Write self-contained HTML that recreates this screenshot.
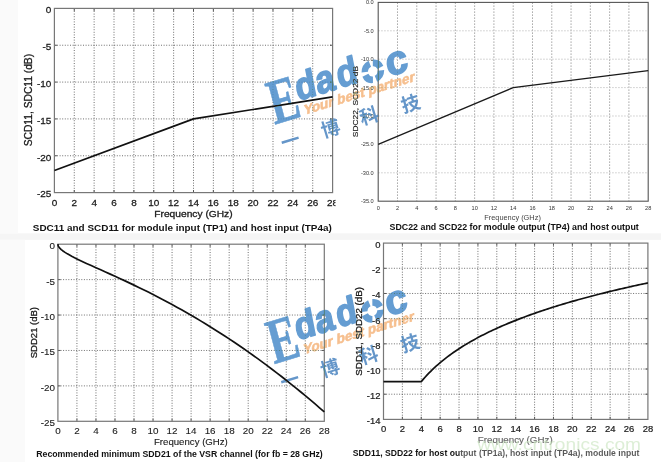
<!DOCTYPE html><html><head><meta charset="utf-8"><style>html,body{margin:0;padding:0;background:#fff;}svg{display:block;filter:blur(0.3px)}</style></head><body>
<svg width="661" height="462" viewBox="0 0 661 462" font-family="'Liberation Sans', Arial, sans-serif">
<rect width="661" height="462" fill="#fff"/>
<rect x="0" y="233.3" width="661" height="6.6" fill="#f5f5f5"/>
<rect x="0" y="0" width="18" height="233.3" fill="#fafafa"/>
<rect x="0" y="239.9" width="25" height="222.1" fill="#fafafa"/>
<defs><clipPath id="ctl"><rect x="0" y="0" width="335.5" height="233"/></clipPath></defs><g clip-path="url(#ctl)">
<path d="M74.27 8.4V192.6 M94.14 8.4V192.6 M114.01 8.4V192.6 M133.89 8.4V192.6 M153.76 8.4V192.6 M173.63 8.4V192.6 M193.5 8.4V192.6 M213.37 8.4V192.6 M233.24 8.4V192.6 M253.11 8.4V192.6 M272.99 8.4V192.6 M292.86 8.4V192.6 M312.73 8.4V192.6 M54.4 45.24H332.6 M54.4 82.08H332.6 M54.4 118.92H332.6 M54.4 155.76H332.6" stroke="#4a4a4a" stroke-width="0.8" stroke-dasharray="1 1.6" fill="none"/>
<path d="M74.27 192.6v-2.6M74.27 8.4v2.6M94.14 192.6v-2.6M94.14 8.4v2.6M114.01 192.6v-2.6M114.01 8.4v2.6M133.89 192.6v-2.6M133.89 8.4v2.6M153.76 192.6v-2.6M153.76 8.4v2.6M173.63 192.6v-2.6M173.63 8.4v2.6M193.5 192.6v-2.6M193.5 8.4v2.6M213.37 192.6v-2.6M213.37 8.4v2.6M233.24 192.6v-2.6M233.24 8.4v2.6M253.11 192.6v-2.6M253.11 8.4v2.6M272.99 192.6v-2.6M272.99 8.4v2.6M292.86 192.6v-2.6M292.86 8.4v2.6M312.73 192.6v-2.6M312.73 8.4v2.6M54.4 45.24h2.6M332.6 45.24h-2.6M54.4 82.08h2.6M332.6 82.08h-2.6M54.4 118.92h2.6M332.6 118.92h-2.6M54.4 155.76h2.6M332.6 155.76h-2.6" stroke="#555" stroke-width="1" fill="none"/>
<rect x="54.4" y="8.4" width="278.2" height="184.2" stroke="#777" stroke-width="1.2" fill="none"/>
<polyline points="54.4,170.5 193.5,118.92 332.6,96.82" stroke="#111" stroke-width="1.7" fill="none" stroke-linejoin="round"/>
<text transform="translate(51.4 13.2) scale(1.07 1)" font-size="9.3" fill="#1a1a1a" text-anchor="end" stroke="#1a1a1a" stroke-width="0.25">0</text>
<text transform="translate(51.4 50.04) scale(1.07 1)" font-size="9.3" fill="#1a1a1a" text-anchor="end" stroke="#1a1a1a" stroke-width="0.25">-5</text>
<text transform="translate(51.4 86.88) scale(1.07 1)" font-size="9.3" fill="#1a1a1a" text-anchor="end" stroke="#1a1a1a" stroke-width="0.25">-10</text>
<text transform="translate(51.4 123.72) scale(1.07 1)" font-size="9.3" fill="#1a1a1a" text-anchor="end" stroke="#1a1a1a" stroke-width="0.25">-15</text>
<text transform="translate(51.4 160.56) scale(1.07 1)" font-size="9.3" fill="#1a1a1a" text-anchor="end" stroke="#1a1a1a" stroke-width="0.25">-20</text>
<text transform="translate(51.4 197.4) scale(1.07 1)" font-size="9.3" fill="#1a1a1a" text-anchor="end" stroke="#1a1a1a" stroke-width="0.25">-25</text>
<text transform="translate(54.4 206.1) scale(1.07 1)" font-size="9.3" fill="#1a1a1a" text-anchor="middle" stroke="#1a1a1a" stroke-width="0.25">0</text>
<text transform="translate(74.27 206.1) scale(1.07 1)" font-size="9.3" fill="#1a1a1a" text-anchor="middle" stroke="#1a1a1a" stroke-width="0.25">2</text>
<text transform="translate(94.14 206.1) scale(1.07 1)" font-size="9.3" fill="#1a1a1a" text-anchor="middle" stroke="#1a1a1a" stroke-width="0.25">4</text>
<text transform="translate(114.01 206.1) scale(1.07 1)" font-size="9.3" fill="#1a1a1a" text-anchor="middle" stroke="#1a1a1a" stroke-width="0.25">6</text>
<text transform="translate(133.89 206.1) scale(1.07 1)" font-size="9.3" fill="#1a1a1a" text-anchor="middle" stroke="#1a1a1a" stroke-width="0.25">8</text>
<text transform="translate(153.76 206.1) scale(1.07 1)" font-size="9.3" fill="#1a1a1a" text-anchor="middle" stroke="#1a1a1a" stroke-width="0.25">10</text>
<text transform="translate(173.63 206.1) scale(1.07 1)" font-size="9.3" fill="#1a1a1a" text-anchor="middle" stroke="#1a1a1a" stroke-width="0.25">12</text>
<text transform="translate(193.5 206.1) scale(1.07 1)" font-size="9.3" fill="#1a1a1a" text-anchor="middle" stroke="#1a1a1a" stroke-width="0.25">14</text>
<text transform="translate(213.37 206.1) scale(1.07 1)" font-size="9.3" fill="#1a1a1a" text-anchor="middle" stroke="#1a1a1a" stroke-width="0.25">16</text>
<text transform="translate(233.24 206.1) scale(1.07 1)" font-size="9.3" fill="#1a1a1a" text-anchor="middle" stroke="#1a1a1a" stroke-width="0.25">18</text>
<text transform="translate(253.11 206.1) scale(1.07 1)" font-size="9.3" fill="#1a1a1a" text-anchor="middle" stroke="#1a1a1a" stroke-width="0.25">20</text>
<text transform="translate(272.99 206.1) scale(1.07 1)" font-size="9.3" fill="#1a1a1a" text-anchor="middle" stroke="#1a1a1a" stroke-width="0.25">22</text>
<text transform="translate(292.86 206.1) scale(1.07 1)" font-size="9.3" fill="#1a1a1a" text-anchor="middle" stroke="#1a1a1a" stroke-width="0.25">24</text>
<text transform="translate(312.73 206.1) scale(1.07 1)" font-size="9.3" fill="#1a1a1a" text-anchor="middle" stroke="#1a1a1a" stroke-width="0.25">26</text>
<text transform="translate(332.6 206.1) scale(1.07 1)" font-size="9.3" fill="#1a1a1a" text-anchor="middle" stroke="#1a1a1a" stroke-width="0.25">28</text>
<text transform="translate(154.28 216.6) scale(1.0882 1)" font-size="9.4" fill="#1a1a1a" stroke="#1a1a1a" stroke-width="0.3">Frequency (GHz)</text>
<text transform="translate(32 146.26) rotate(-90) scale(1.0252 1)" font-size="10" fill="#1a1a1a" stroke="#1a1a1a" stroke-width="0.3">SCD11, SDC11 (dB)</text>
</g>
<text transform="translate(32.83 231) scale(1.0136 1)" font-size="9.8" font-weight="bold" fill="#111">SDC11 and SCD11 for module input (TP1) and host input (TP4a)</text>
<path d="M397.49 2.4V201.2 M416.77 2.4V201.2 M436.06 2.4V201.2 M455.34 2.4V201.2 M474.63 2.4V201.2 M493.91 2.4V201.2 M513.2 2.4V201.2 M532.49 2.4V201.2 M551.77 2.4V201.2 M571.06 2.4V201.2 M590.34 2.4V201.2 M609.63 2.4V201.2 M628.91 2.4V201.2" stroke="#9a9a9a" stroke-width="0.9" stroke-dasharray="1.5 1.5" fill="none"/>
<path d="M378.2 30.8H648.2 M378.2 59.2H648.2 M378.2 87.6H648.2 M378.2 116H648.2 M378.2 144.4H648.2 M378.2 172.8H648.2" stroke="#c4c4c4" stroke-width="0.9" stroke-dasharray="1.5 1.5" fill="none"/>
<rect x="378.2" y="2.4" width="270" height="198.8" stroke="#555" stroke-width="1.1" fill="none"/>
<polyline points="378.2,144.4 513.2,87.6 648.2,70.56" stroke="#1a1a1a" stroke-width="1.3" fill="none"/>
<text transform="translate(373.7 4.4) scale(1.0 1)" font-size="5.6" fill="#333" text-anchor="end">0.0</text>
<text transform="translate(373.7 32.8) scale(1.0 1)" font-size="5.6" fill="#333" text-anchor="end">-5.0</text>
<text transform="translate(373.7 61.2) scale(1.0 1)" font-size="5.6" fill="#333" text-anchor="end">-10.0</text>
<text transform="translate(373.7 89.6) scale(1.0 1)" font-size="5.6" fill="#333" text-anchor="end">-15.0</text>
<text transform="translate(373.7 118) scale(1.0 1)" font-size="5.6" fill="#333" text-anchor="end">-20.0</text>
<text transform="translate(373.7 146.4) scale(1.0 1)" font-size="5.6" fill="#333" text-anchor="end">-25.0</text>
<text transform="translate(373.7 174.8) scale(1.0 1)" font-size="5.6" fill="#333" text-anchor="end">-30.0</text>
<text transform="translate(373.7 203.2) scale(1.0 1)" font-size="5.6" fill="#333" text-anchor="end">-35.0</text>
<text transform="translate(378.2 210.2) scale(1.0 1)" font-size="5.6" fill="#333" text-anchor="middle">0</text>
<text transform="translate(397.49 210.2) scale(1.0 1)" font-size="5.6" fill="#333" text-anchor="middle">2</text>
<text transform="translate(416.77 210.2) scale(1.0 1)" font-size="5.6" fill="#333" text-anchor="middle">4</text>
<text transform="translate(436.06 210.2) scale(1.0 1)" font-size="5.6" fill="#333" text-anchor="middle">6</text>
<text transform="translate(455.34 210.2) scale(1.0 1)" font-size="5.6" fill="#333" text-anchor="middle">8</text>
<text transform="translate(474.63 210.2) scale(1.0 1)" font-size="5.6" fill="#333" text-anchor="middle">10</text>
<text transform="translate(493.91 210.2) scale(1.0 1)" font-size="5.6" fill="#333" text-anchor="middle">12</text>
<text transform="translate(513.2 210.2) scale(1.0 1)" font-size="5.6" fill="#333" text-anchor="middle">14</text>
<text transform="translate(532.49 210.2) scale(1.0 1)" font-size="5.6" fill="#333" text-anchor="middle">16</text>
<text transform="translate(551.77 210.2) scale(1.0 1)" font-size="5.6" fill="#333" text-anchor="middle">18</text>
<text transform="translate(571.06 210.2) scale(1.0 1)" font-size="5.6" fill="#333" text-anchor="middle">20</text>
<text transform="translate(590.34 210.2) scale(1.0 1)" font-size="5.6" fill="#333" text-anchor="middle">22</text>
<text transform="translate(609.63 210.2) scale(1.0 1)" font-size="5.6" fill="#333" text-anchor="middle">24</text>
<text transform="translate(628.91 210.2) scale(1.0 1)" font-size="5.6" fill="#333" text-anchor="middle">26</text>
<text transform="translate(648.2 210.2) scale(1.0 1)" font-size="5.6" fill="#333" text-anchor="middle">28</text>
<text transform="translate(484.21 219.5) scale(0.9866 1)" font-size="7.5" fill="#444">Frequency (GHz)</text>
<text transform="translate(358.3 137.18) rotate(-90) scale(1.0482 1)" font-size="8" fill="#1a1a1a" stroke="#1a1a1a" stroke-width="0.15">SDC22, SCD22 dB</text>
<text transform="translate(389.56 230.4) scale(0.9832 1)" font-size="9.0" font-weight="bold" fill="#111">SDC22 and SCD22 for module output (TP4) and host output</text>
<path d="M76.93 244.2V421.3 M95.96 244.2V421.3 M114.99 244.2V421.3 M134.01 244.2V421.3 M153.04 244.2V421.3 M172.07 244.2V421.3 M191.1 244.2V421.3 M210.13 244.2V421.3 M229.16 244.2V421.3 M248.19 244.2V421.3 M267.21 244.2V421.3 M286.24 244.2V421.3 M305.27 244.2V421.3 M57.9 279.62H324.3 M57.9 315.04H324.3 M57.9 350.46H324.3 M57.9 385.88H324.3" stroke="#4a4a4a" stroke-width="0.8" stroke-dasharray="1 1.6" fill="none"/>
<path d="M76.93 421.3v-2.6M76.93 244.2v2.6M95.96 421.3v-2.6M95.96 244.2v2.6M114.99 421.3v-2.6M114.99 244.2v2.6M134.01 421.3v-2.6M134.01 244.2v2.6M153.04 421.3v-2.6M153.04 244.2v2.6M172.07 421.3v-2.6M172.07 244.2v2.6M191.1 421.3v-2.6M191.1 244.2v2.6M210.13 421.3v-2.6M210.13 244.2v2.6M229.16 421.3v-2.6M229.16 244.2v2.6M248.19 421.3v-2.6M248.19 244.2v2.6M267.21 421.3v-2.6M267.21 244.2v2.6M286.24 421.3v-2.6M286.24 244.2v2.6M305.27 421.3v-2.6M305.27 244.2v2.6M57.9 279.62h2.6M324.3 279.62h-2.6M57.9 315.04h2.6M324.3 315.04h-2.6M57.9 350.46h2.6M324.3 350.46h-2.6M57.9 385.88h2.6M324.3 385.88h-2.6" stroke="#555" stroke-width="1" fill="none"/>
<rect x="57.9" y="244.2" width="266.4" height="177.1" stroke="#777" stroke-width="1.2" fill="none"/>
<polyline points="57.9,244.2 58.09,245.39 58.38,246.11 58.85,246.94 59.8,248.15 61.23,249.55 62.66,250.71 65.04,252.38 67.41,253.86 72.17,256.51 76.93,258.92 81.69,261.2 86.44,263.41 91.2,265.57 95.96,267.71 100.71,269.84 105.47,271.97 110.23,274.11 114.99,276.26 119.74,278.44 124.5,280.64 129.26,282.87 134.01,285.13 138.77,287.42 143.53,289.75 148.29,292.11 153.04,294.52 157.8,296.96 162.56,299.44 167.31,301.97 172.07,304.53 176.83,307.14 181.59,309.8 186.34,312.5 191.1,315.24 195.86,318.03 200.61,320.87 205.37,323.75 210.13,326.68 214.89,329.66 219.64,332.69 224.4,335.77 229.16,338.89 233.91,342.06 238.67,345.29 243.43,348.56 248.19,351.88 252.94,355.25 257.7,358.67 262.46,362.15 267.21,365.67 271.97,369.24 276.73,372.87 281.49,376.54 286.24,380.27 291,384.05 295.76,387.88 300.51,391.76 305.27,395.7 310.03,399.68 314.79,403.72 319.54,407.81 324.3,411.95" stroke="#111" stroke-width="1.7" fill="none" stroke-linejoin="round"/>
<text transform="translate(54.9 249.2) scale(1.05 1)" font-size="9.4" fill="#1a1a1a" text-anchor="end" stroke="#1a1a1a" stroke-width="0.1">0</text>
<text transform="translate(54.9 284.62) scale(1.05 1)" font-size="9.4" fill="#1a1a1a" text-anchor="end" stroke="#1a1a1a" stroke-width="0.1">-5</text>
<text transform="translate(54.9 320.04) scale(1.05 1)" font-size="9.4" fill="#1a1a1a" text-anchor="end" stroke="#1a1a1a" stroke-width="0.1">-10</text>
<text transform="translate(54.9 355.46) scale(1.05 1)" font-size="9.4" fill="#1a1a1a" text-anchor="end" stroke="#1a1a1a" stroke-width="0.1">-15</text>
<text transform="translate(54.9 390.88) scale(1.05 1)" font-size="9.4" fill="#1a1a1a" text-anchor="end" stroke="#1a1a1a" stroke-width="0.1">-20</text>
<text transform="translate(54.9 426.3) scale(1.05 1)" font-size="9.4" fill="#1a1a1a" text-anchor="end" stroke="#1a1a1a" stroke-width="0.1">-25</text>
<text transform="translate(57.9 434.1) scale(1.05 1)" font-size="9.4" fill="#1a1a1a" text-anchor="middle" stroke="#1a1a1a" stroke-width="0.1">0</text>
<text transform="translate(76.93 434.1) scale(1.05 1)" font-size="9.4" fill="#1a1a1a" text-anchor="middle" stroke="#1a1a1a" stroke-width="0.1">2</text>
<text transform="translate(95.96 434.1) scale(1.05 1)" font-size="9.4" fill="#1a1a1a" text-anchor="middle" stroke="#1a1a1a" stroke-width="0.1">4</text>
<text transform="translate(114.99 434.1) scale(1.05 1)" font-size="9.4" fill="#1a1a1a" text-anchor="middle" stroke="#1a1a1a" stroke-width="0.1">6</text>
<text transform="translate(134.01 434.1) scale(1.05 1)" font-size="9.4" fill="#1a1a1a" text-anchor="middle" stroke="#1a1a1a" stroke-width="0.1">8</text>
<text transform="translate(153.04 434.1) scale(1.05 1)" font-size="9.4" fill="#1a1a1a" text-anchor="middle" stroke="#1a1a1a" stroke-width="0.1">10</text>
<text transform="translate(172.07 434.1) scale(1.05 1)" font-size="9.4" fill="#1a1a1a" text-anchor="middle" stroke="#1a1a1a" stroke-width="0.1">12</text>
<text transform="translate(191.1 434.1) scale(1.05 1)" font-size="9.4" fill="#1a1a1a" text-anchor="middle" stroke="#1a1a1a" stroke-width="0.1">14</text>
<text transform="translate(210.13 434.1) scale(1.05 1)" font-size="9.4" fill="#1a1a1a" text-anchor="middle" stroke="#1a1a1a" stroke-width="0.1">16</text>
<text transform="translate(229.16 434.1) scale(1.05 1)" font-size="9.4" fill="#1a1a1a" text-anchor="middle" stroke="#1a1a1a" stroke-width="0.1">18</text>
<text transform="translate(248.19 434.1) scale(1.05 1)" font-size="9.4" fill="#1a1a1a" text-anchor="middle" stroke="#1a1a1a" stroke-width="0.1">20</text>
<text transform="translate(267.21 434.1) scale(1.05 1)" font-size="9.4" fill="#1a1a1a" text-anchor="middle" stroke="#1a1a1a" stroke-width="0.1">22</text>
<text transform="translate(286.24 434.1) scale(1.05 1)" font-size="9.4" fill="#1a1a1a" text-anchor="middle" stroke="#1a1a1a" stroke-width="0.1">24</text>
<text transform="translate(305.27 434.1) scale(1.05 1)" font-size="9.4" fill="#1a1a1a" text-anchor="middle" stroke="#1a1a1a" stroke-width="0.1">26</text>
<text transform="translate(324.3 434.1) scale(1.05 1)" font-size="9.4" fill="#1a1a1a" text-anchor="middle" stroke="#1a1a1a" stroke-width="0.1">28</text>
<text transform="translate(153.93 445.1) scale(1.0975 1)" font-size="8.8" fill="#1a1a1a" stroke="#1a1a1a" stroke-width="0.1">Frequency (GHz)</text>
<text transform="translate(37 358.33) rotate(-90) scale(1.0038 1)" font-size="9.5" fill="#1a1a1a" stroke="#1a1a1a" stroke-width="0.3">SDD21 (dB)</text>
<text transform="translate(36.23 457) scale(1.0177 1)" font-size="8.6" font-weight="bold" fill="#111">Recommended minimum SDD21 of the VSR channel (for fb = 28 GHz)</text>
<path d="M402.39 243.1V419.4 M421.27 243.1V419.4 M440.16 243.1V419.4 M459.04 243.1V419.4 M477.93 243.1V419.4 M496.81 243.1V419.4 M515.7 243.1V419.4 M534.59 243.1V419.4 M553.47 243.1V419.4 M572.36 243.1V419.4 M591.24 243.1V419.4 M610.13 243.1V419.4 M629.01 243.1V419.4 M383.5 268.29H647.9 M383.5 293.47H647.9 M383.5 318.66H647.9 M383.5 343.84H647.9 M383.5 369.03H647.9 M383.5 394.21H647.9" stroke="#4a4a4a" stroke-width="0.8" stroke-dasharray="1 1.6" fill="none"/>
<path d="M402.39 419.4v-2.6M402.39 243.1v2.6M421.27 419.4v-2.6M421.27 243.1v2.6M440.16 419.4v-2.6M440.16 243.1v2.6M459.04 419.4v-2.6M459.04 243.1v2.6M477.93 419.4v-2.6M477.93 243.1v2.6M496.81 419.4v-2.6M496.81 243.1v2.6M515.7 419.4v-2.6M515.7 243.1v2.6M534.59 419.4v-2.6M534.59 243.1v2.6M553.47 419.4v-2.6M553.47 243.1v2.6M572.36 419.4v-2.6M572.36 243.1v2.6M591.24 419.4v-2.6M591.24 243.1v2.6M610.13 419.4v-2.6M610.13 243.1v2.6M629.01 419.4v-2.6M629.01 243.1v2.6M383.5 268.29h2.6M647.9 268.29h-2.6M383.5 293.47h2.6M647.9 293.47h-2.6M383.5 318.66h2.6M647.9 318.66h-2.6M383.5 343.84h2.6M647.9 343.84h-2.6M383.5 369.03h2.6M647.9 369.03h-2.6M383.5 394.21h2.6M647.9 394.21h-2.6" stroke="#555" stroke-width="1" fill="none"/>
<rect x="383.5" y="243.1" width="264.4" height="176.3" stroke="#777" stroke-width="1.2" fill="none"/>
<polyline points="383.5,381.62 421.27,381.62 423.16,379.39 425.05,377.25 426.94,375.19 428.83,373.21 430.71,371.31 432.6,369.47 434.49,367.69 436.38,365.97 438.27,364.3 440.16,362.69 442.05,361.12 443.93,359.59 445.82,358.11 447.71,356.67 449.6,355.26 451.49,353.89 453.38,352.55 455.27,351.25 457.15,349.97 459.04,348.73 460.93,347.51 462.82,346.32 464.71,345.15 466.6,344.01 468.49,342.89 470.37,341.79 472.26,340.72 474.15,339.66 476.04,338.62 477.93,337.61 479.82,336.61 481.71,335.62 483.59,334.66 485.48,333.71 487.37,332.78 489.26,331.86 491.15,330.95 493.04,330.06 494.93,329.19 496.81,328.32 498.7,327.47 500.59,326.64 502.48,325.81 504.37,325 506.26,324.19 508.15,323.4 510.03,322.62 511.92,321.85 513.81,321.09 515.7,320.34 517.59,319.6 519.48,318.87 521.37,318.15 523.25,317.43 525.14,316.73 527.03,316.03 528.92,315.34 530.81,314.66 532.7,313.99 534.59,313.33 536.47,312.67 538.36,312.02 540.25,311.37 542.14,310.74 544.03,310.11 545.92,309.49 547.81,308.87 549.69,308.26 551.58,307.66 553.47,307.06 555.36,306.47 557.25,305.88 559.14,305.3 561.03,304.73 562.91,304.16 564.8,303.6 566.69,303.04 568.58,302.48 570.47,301.94 572.36,301.39 574.25,300.86 576.13,300.32 578.02,299.79 579.91,299.27 581.8,298.75 583.69,298.24 585.58,297.72 587.47,297.22 589.35,296.72 591.24,296.22 593.13,295.72 595.02,295.23 596.91,294.75 598.8,294.27 600.69,293.79 602.57,293.31 604.46,292.84 606.35,292.38 608.24,291.91 610.13,291.45 612.02,290.99 613.91,290.54 615.79,290.09 617.68,289.64 619.57,289.2 621.46,288.76 623.35,288.32 625.24,287.89 627.13,287.46 629.01,287.03 630.9,286.61 632.79,286.18 634.68,285.77 636.57,285.35 638.46,284.94 640.35,284.53 642.23,284.12 644.12,283.71 646.01,283.31 647.9,282.91" stroke="#111" stroke-width="1.7" fill="none" stroke-linejoin="round"/>
<text transform="translate(380.5 248) scale(1.05 1)" font-size="9.0" fill="#1a1a1a" text-anchor="end" stroke="#1a1a1a" stroke-width="0.2">0</text>
<text transform="translate(380.5 273.19) scale(1.05 1)" font-size="9.0" fill="#1a1a1a" text-anchor="end" stroke="#1a1a1a" stroke-width="0.2">-2</text>
<text transform="translate(380.5 298.37) scale(1.05 1)" font-size="9.0" fill="#1a1a1a" text-anchor="end" stroke="#1a1a1a" stroke-width="0.2">-4</text>
<text transform="translate(380.5 323.56) scale(1.05 1)" font-size="9.0" fill="#1a1a1a" text-anchor="end" stroke="#1a1a1a" stroke-width="0.2">-6</text>
<text transform="translate(380.5 348.74) scale(1.05 1)" font-size="9.0" fill="#1a1a1a" text-anchor="end" stroke="#1a1a1a" stroke-width="0.2">-8</text>
<text transform="translate(380.5 373.93) scale(1.05 1)" font-size="9.0" fill="#1a1a1a" text-anchor="end" stroke="#1a1a1a" stroke-width="0.2">-10</text>
<text transform="translate(380.5 399.11) scale(1.05 1)" font-size="9.0" fill="#1a1a1a" text-anchor="end" stroke="#1a1a1a" stroke-width="0.2">-12</text>
<text transform="translate(380.5 424.3) scale(1.05 1)" font-size="9.0" fill="#1a1a1a" text-anchor="end" stroke="#1a1a1a" stroke-width="0.2">-14</text>
<text transform="translate(383.5 432) scale(1.05 1)" font-size="9.0" fill="#1a1a1a" text-anchor="middle" stroke="#1a1a1a" stroke-width="0.2">0</text>
<text transform="translate(402.39 432) scale(1.05 1)" font-size="9.0" fill="#1a1a1a" text-anchor="middle" stroke="#1a1a1a" stroke-width="0.2">2</text>
<text transform="translate(421.27 432) scale(1.05 1)" font-size="9.0" fill="#1a1a1a" text-anchor="middle" stroke="#1a1a1a" stroke-width="0.2">4</text>
<text transform="translate(440.16 432) scale(1.05 1)" font-size="9.0" fill="#1a1a1a" text-anchor="middle" stroke="#1a1a1a" stroke-width="0.2">6</text>
<text transform="translate(459.04 432) scale(1.05 1)" font-size="9.0" fill="#1a1a1a" text-anchor="middle" stroke="#1a1a1a" stroke-width="0.2">8</text>
<text transform="translate(477.93 432) scale(1.05 1)" font-size="9.0" fill="#1a1a1a" text-anchor="middle" stroke="#1a1a1a" stroke-width="0.2">10</text>
<text transform="translate(496.81 432) scale(1.05 1)" font-size="9.0" fill="#1a1a1a" text-anchor="middle" stroke="#1a1a1a" stroke-width="0.2">12</text>
<text transform="translate(515.7 432) scale(1.05 1)" font-size="9.0" fill="#1a1a1a" text-anchor="middle" stroke="#1a1a1a" stroke-width="0.2">14</text>
<text transform="translate(534.59 432) scale(1.05 1)" font-size="9.0" fill="#1a1a1a" text-anchor="middle" stroke="#1a1a1a" stroke-width="0.2">16</text>
<text transform="translate(553.47 432) scale(1.05 1)" font-size="9.0" fill="#1a1a1a" text-anchor="middle" stroke="#1a1a1a" stroke-width="0.2">18</text>
<text transform="translate(572.36 432) scale(1.05 1)" font-size="9.0" fill="#1a1a1a" text-anchor="middle" stroke="#1a1a1a" stroke-width="0.2">20</text>
<text transform="translate(591.24 432) scale(1.05 1)" font-size="9.0" fill="#1a1a1a" text-anchor="middle" stroke="#1a1a1a" stroke-width="0.2">22</text>
<text transform="translate(610.13 432) scale(1.05 1)" font-size="9.0" fill="#1a1a1a" text-anchor="middle" stroke="#1a1a1a" stroke-width="0.2">24</text>
<text transform="translate(629.01 432) scale(1.05 1)" font-size="9.0" fill="#1a1a1a" text-anchor="middle" stroke="#1a1a1a" stroke-width="0.2">26</text>
<text transform="translate(647.9 432) scale(1.05 1)" font-size="9.0" fill="#1a1a1a" text-anchor="middle" stroke="#1a1a1a" stroke-width="0.2">28</text>
<text transform="translate(477.82 442.5) scale(1.0986 1)" font-size="8.9" fill="#1a1a1a" stroke="#1a1a1a" stroke-width="0.15">Frequency (GHz)</text>
<text transform="translate(361.5 375.64) rotate(-90) scale(1.0269 1)" font-size="9.5" fill="#1a1a1a" stroke="#1a1a1a" stroke-width="0.3">SDD11, SDD22 (dB)</text>
<text transform="translate(352.86 455.6) scale(1.0035 1)" font-size="8.6" font-weight="bold" fill="#111">SDD11, SDD22 for host output (TP1a), host input (TP4a), module input</text>
<rect x="459.5" y="434" width="190" height="28" fill="#fff" opacity="0.3"/>
<text transform="translate(477.15 450.2) scale(1.1985 1)" font-size="16" fill="#cfe8c6" opacity="0.7">www.cntronics.com</text>
<g style="mix-blend-mode:darken">
<g transform="translate(0 0)" opacity="0.85">
<text transform="matrix(0.6694 -0.2047 0.2588 0.9659 274.5 124.8)" font-family="'Liberation Serif', serif" font-weight="bold" font-size="64" fill="#4a8ccb" stroke="#4a8ccb" stroke-width="0.6" stroke-linejoin="round">E</text>
<g transform="matrix(0.9563 -0.2924 0.1908 0.9816 297.8 101)" fill="#4a8ccb" stroke="#4a8ccb" stroke-linejoin="round">
<text transform="scale(0.9 1)" x="0 23.5 48" y="0 0 0" font-weight="bold" font-size="38.5" stroke-width="1.6">dad</text>
<g transform="translate(79.8 -6.5)" stroke="none">
<path d="M11.39 2.21 A11.6 11.6 0 0 1 2.21 11.39 L0.95 4.91 A5.0 5.0 0 0 0 4.91 0.95Z"/>
<path d="M-2.21 11.39 A11.6 11.6 0 0 1 -11.39 2.21 L-4.91 0.95 A5.0 5.0 0 0 0 -0.95 4.91Z"/>
<path d="M-11.39 -2.21 A11.6 11.6 0 0 1 -2.21 -11.39 L-0.95 -4.91 A5.0 5.0 0 0 0 -4.91 -0.95Z"/>
<path d="M2.21 -11.39 A11.6 11.6 0 0 1 11.39 -2.21 L4.91 -0.95 A5.0 5.0 0 0 0 0.95 -4.91Z"/>
</g>
<text x="93.9" y="3.2" font-weight="bold" font-size="40" stroke-width="1.6">c</text>
</g>
<text transform="matrix(0.9563 -0.2924 0.0000 1.0000 304 115)" font-weight="bold" font-size="14" fill="#f3a764" stroke="#f3a764" stroke-width="0.6" opacity="0.85">Your best partner</text>
<text transform="matrix(0.9563 -0.2924 0.2924 0.9563 290.5 141)" font-family="'Liberation Sans', 'Noto Sans CJK SC', sans-serif" font-weight="700" font-size="19" fill="#4a84c0" text-anchor="middle" dominant-baseline="central">一</text>
<text transform="matrix(0.9563 -0.2924 0.2924 0.9563 330.7 129)" font-family="'Liberation Sans', 'Noto Sans CJK SC', sans-serif" font-weight="700" font-size="19" fill="#4a84c0" text-anchor="middle" dominant-baseline="central">博</text>
<text transform="matrix(0.9563 -0.2924 0.2924 0.9563 369.3 116.2)" font-family="'Liberation Sans', 'Noto Sans CJK SC', sans-serif" font-weight="700" font-size="19" fill="#4a84c0" text-anchor="middle" dominant-baseline="central">科</text>
<text transform="matrix(0.9563 -0.2924 0.2924 0.9563 410.7 104)" font-family="'Liberation Sans', 'Noto Sans CJK SC', sans-serif" font-weight="700" font-size="19" fill="#4a84c0" text-anchor="middle" dominant-baseline="central">技</text>
</g>
<g transform="translate(-0.5 239.5)" opacity="0.85">
<text transform="matrix(0.6694 -0.2047 0.2588 0.9659 274.5 124.8)" font-family="'Liberation Serif', serif" font-weight="bold" font-size="64" fill="#4a8ccb" stroke="#4a8ccb" stroke-width="0.6" stroke-linejoin="round">E</text>
<g transform="matrix(0.9563 -0.2924 0.1908 0.9816 297.8 101)" fill="#4a8ccb" stroke="#4a8ccb" stroke-linejoin="round">
<text transform="scale(0.9 1)" x="0 23.5 48" y="0 0 0" font-weight="bold" font-size="38.5" stroke-width="1.6">dad</text>
<g transform="translate(79.8 -6.5)" stroke="none">
<path d="M11.39 2.21 A11.6 11.6 0 0 1 2.21 11.39 L0.95 4.91 A5.0 5.0 0 0 0 4.91 0.95Z"/>
<path d="M-2.21 11.39 A11.6 11.6 0 0 1 -11.39 2.21 L-4.91 0.95 A5.0 5.0 0 0 0 -0.95 4.91Z"/>
<path d="M-11.39 -2.21 A11.6 11.6 0 0 1 -2.21 -11.39 L-0.95 -4.91 A5.0 5.0 0 0 0 -4.91 -0.95Z"/>
<path d="M2.21 -11.39 A11.6 11.6 0 0 1 11.39 -2.21 L4.91 -0.95 A5.0 5.0 0 0 0 0.95 -4.91Z"/>
</g>
<text x="93.9" y="3.2" font-weight="bold" font-size="40" stroke-width="1.6">c</text>
</g>
<text transform="matrix(0.9563 -0.2924 0.0000 1.0000 304 115)" font-weight="bold" font-size="14" fill="#f3a764" stroke="#f3a764" stroke-width="0.6" opacity="0.85">Your best partner</text>
<text transform="matrix(0.9563 -0.2924 0.2924 0.9563 290.5 141)" font-family="'Liberation Sans', 'Noto Sans CJK SC', sans-serif" font-weight="700" font-size="19" fill="#4a84c0" text-anchor="middle" dominant-baseline="central">一</text>
<text transform="matrix(0.9563 -0.2924 0.2924 0.9563 330.7 129)" font-family="'Liberation Sans', 'Noto Sans CJK SC', sans-serif" font-weight="700" font-size="19" fill="#4a84c0" text-anchor="middle" dominant-baseline="central">博</text>
<text transform="matrix(0.9563 -0.2924 0.2924 0.9563 369.3 116.2)" font-family="'Liberation Sans', 'Noto Sans CJK SC', sans-serif" font-weight="700" font-size="19" fill="#4a84c0" text-anchor="middle" dominant-baseline="central">科</text>
<text transform="matrix(0.9563 -0.2924 0.2924 0.9563 410.7 104)" font-family="'Liberation Sans', 'Noto Sans CJK SC', sans-serif" font-weight="700" font-size="19" fill="#4a84c0" text-anchor="middle" dominant-baseline="central">技</text>
</g>
</g>
</svg></body></html>
